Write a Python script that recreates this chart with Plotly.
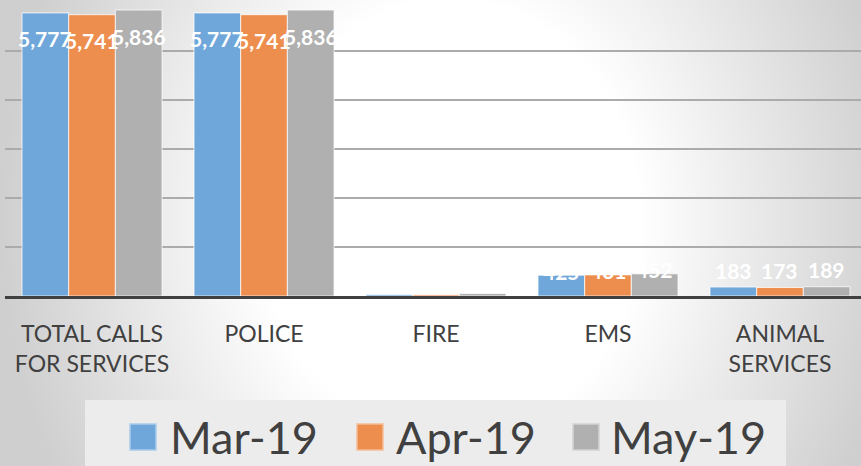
import base64
import plotly.graph_objects as go

# ---------------- data ----------------
categories = ["TOTAL CALLS<br>FOR SERVICES", "POLICE", "FIRE", "EMS", "ANIMAL<br>SERVICES"]
series_names = ["Mar-19", "Apr-19", "May-19"]
mar19 = [5777, 5777, 32, 425, 183]
apr19 = [5741, 5741, 28, 431, 173]
may19 = [5836, 5836, 51, 452, 189]
y_ticks = [0, 1000, 2000, 3000, 4000, 5000, 6000]

series_values = [mar19, apr19, may19]
colors = ["#70A7DA", "#EE8E4E", "#B0B0B0"]
edge_colors = ["#A9CBEC", "#F5BC95", "#D2D2D2"]
# vertical pixel offset of the value labels from the bar top, per category (style)
label_offset_px = [-26, -26, 17, 4, 17]

# ---------------- layout constants ----------------
W, H = 861, 466
ML, MR, MT, MB = 5, 0, 2, 170
PW, PH = W - ML - MR, H - MT - MB
FONT = "Lato, 'Open Sans', sans-serif"
X_RANGE = [-0.506, 4.471]
BARGAP = 0.186


def xp(px):
    return (px - ML) / PW


def yp(py):
    return (H - MB - py) / PH


px_per_cat = PW / (X_RANGE[1] - X_RANGE[0])
bar_px = px_per_cat * (1 - BARGAP) / len(series_names)

fig = go.Figure()
annotations = []
for i, (name, vals, col) in enumerate(zip(series_names, series_values, colors)):
    fig.add_trace(go.Bar(
        name=name,
        x=categories,
        y=vals,
        marker=dict(color=col, line=dict(color="rgba(255,255,255,0.75)", width=1)),
        showlegend=False,
    ))
    for cat, v, off in zip(categories, vals, label_offset_px):
        annotations.append(dict(
            xref="x", yref="y", x=cat, y=v,
            xshift=(i - (len(series_names) - 1) / 2) * bar_px, yshift=off,
            xanchor="center", yanchor="middle", showarrow=False,
            text=f"{v:,}",
            font=dict(family=FONT, size=21, color="white", weight="bold"),
        ))

# background radial gradient (svg data uri)
svg = (
    f'<svg xmlns="http://www.w3.org/2000/svg" width="{W}" height="{H}" '
    f'viewBox="0 0 {W} {H}" preserveAspectRatio="none">'
    '<defs><radialGradient id="g" gradientUnits="userSpaceOnUse" cx="450" cy="220" r="450" '
    'gradientTransform="translate(450 220) scale(1 1.16) translate(-450 -220)">'
    '<stop offset="0" stop-color="#ffffff"/>'
    '<stop offset="0.42" stop-color="#ffffff"/>'
    '<stop offset="1" stop-color="#cfcfcf"/>'
    '</radialGradient></defs>'
    f'<rect x="0" y="0" width="{W}" height="{H}" fill="url(#g)"/></svg>'
)
src = "data:image/svg+xml;base64," + base64.b64encode(svg.encode()).decode()

shapes = []
# legend box
shapes.append(dict(type="rect", xref="paper", yref="paper",
                   x0=xp(85), x1=xp(786), y0=yp(400), y1=yp(470),
                   fillcolor="#ececec", line=dict(width=0), layer="below"))
sq_left = [130, 357, 573]
txt_left = [168, 394, 609]
for name, col, ecol, sx, tx in zip(series_names, colors, edge_colors, sq_left, txt_left):
    shapes.append(dict(type="rect", xref="paper", yref="paper",
                       x0=xp(sx), x1=xp(sx + 26), y0=yp(424), y1=yp(450),
                       fillcolor=col, line=dict(color=ecol, width=1.5)))
    annotations.append(dict(xref="paper", yref="paper", x=xp(tx), y=yp(437),
                            xanchor="left", yanchor="middle", showarrow=False,
                            text=name, font=dict(family=FONT, size=45, color="#404040")))

fig.update_layout(
    width=W, height=H,
    margin=dict(l=ML, r=MR, t=MT, b=MB, pad=0),
    barmode="group", bargap=BARGAP, bargroupgap=0,
    paper_bgcolor="#e4e4e4", plot_bgcolor="rgba(0,0,0,0)",
    showlegend=False,
    images=[dict(source=src, xref="paper", yref="paper",
                 x=xp(0), y=yp(0), sizex=W / PW, sizey=H / PH,
                 xanchor="left", yanchor="top", sizing="stretch", layer="below")],
    shapes=shapes,
    annotations=annotations,
)
fig.update_xaxes(
    type="category", range=X_RANGE,
    showgrid=False, showline=True, linecolor="#404040", linewidth=3,
    ticks="outside", ticklen=15, tickcolor="rgba(0,0,0,0)",
    tickfont=dict(family=FONT, size=23, color="#404040"),
)
fig.update_yaxes(
    range=[0, 6000], tickvals=y_ticks, showticklabels=False,
    showgrid=True, gridcolor="#ababab", gridwidth=1.5, zeroline=False,
)

fig.write_html(
    "out.html",
    config={"displayModeBar": False},
    post_script="document.body.style.margin='0';document.body.style.overflow='hidden';",
)
